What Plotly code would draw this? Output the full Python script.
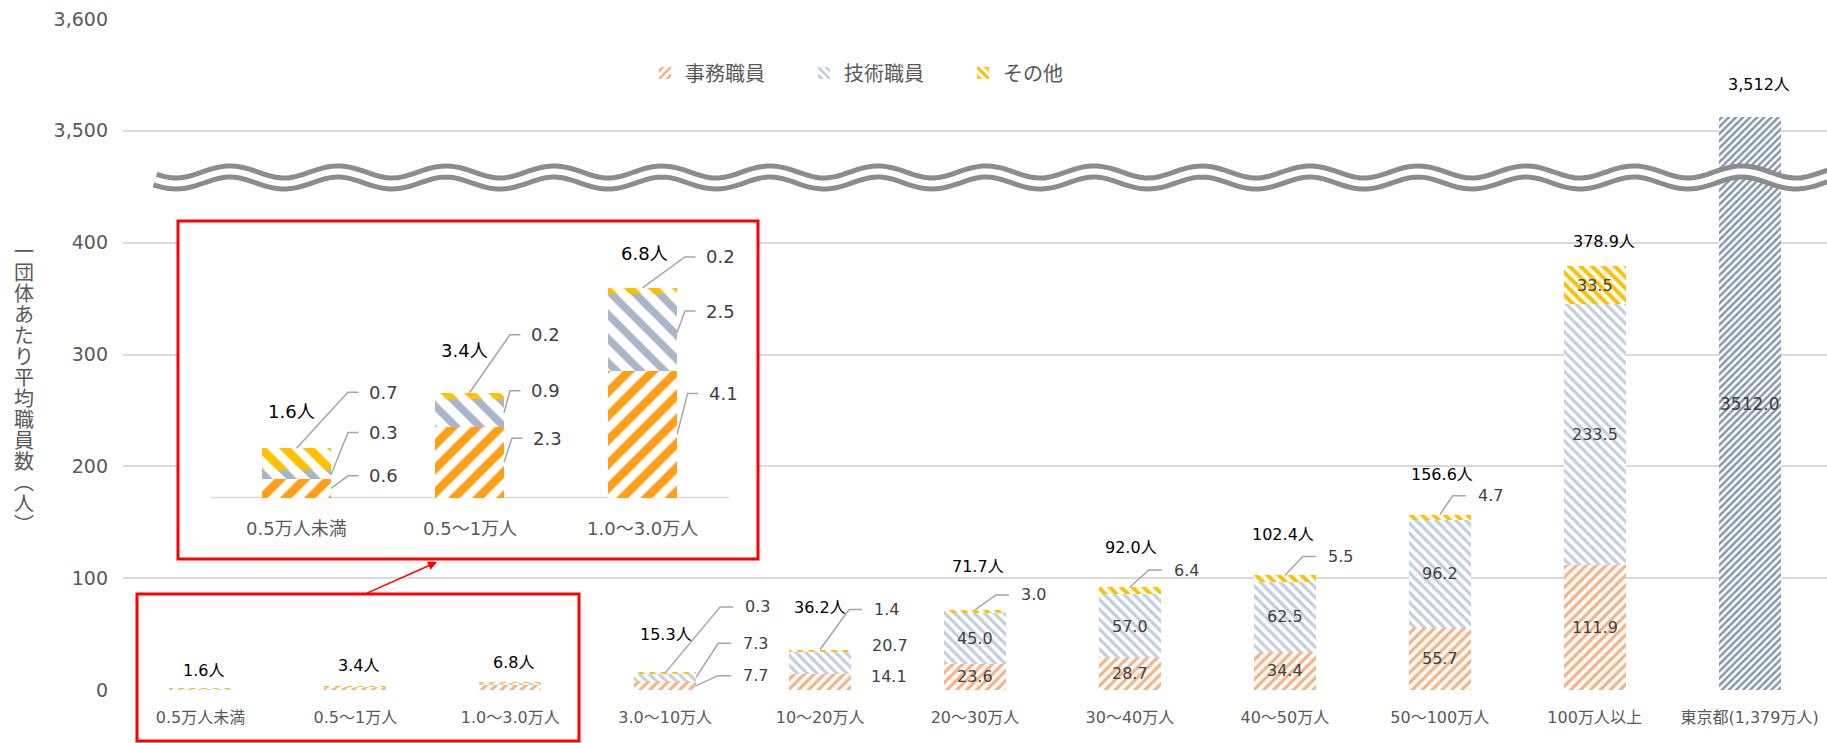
import numpy as np
import plotly.graph_objects as go

# ---------------- data ----------------
categories = ["0.5万人未満", "0.5～1万人", "1.0～3.0万人", "3.0～10万人", "10～20万人",
              "20～30万人", "30～40万人", "40～50万人", "50～100万人", "100万人以上",
              "東京都(1,379万人)"]
series_names = ["事務職員", "技術職員", "その他"]
jimu = [0.6, 2.3, 4.1, 7.7, 14.1, 23.6, 28.7, 34.4, 55.7, 111.9]
gijutsu = [0.3, 0.9, 2.5, 7.3, 20.7, 45.0, 57.0, 62.5, 96.2, 233.5]
sonota = [0.7, 0.2, 0.2, 0.3, 1.4, 3.0, 6.4, 5.5, 4.7, 33.5]
totals = [1.6, 3.4, 6.8, 15.3, 36.2, 71.7, 92.0, 102.4, 156.6, 378.9]
tokyo_total = 3512.0
inset_count = 3  # first three categories are enlarged in the inset
y_tick_values = [0, 100, 200, 300, 400, 3500, 3600]
axis_break_shift = 3000  # values above the axis break are drawn shifted down by this
axis_title = "一団体あたり平均職員数（人）"


def to_axis(v):
    return v - axis_break_shift if v >= axis_break_shift else v


# ---------------- layout constants (pixels) ----------------
W, H = 1827, 743
ML, MR, MT, MB = 123, 0, 19, 53
PW, PH = W - ML - MR, H - MT - MB


def fx(px):
    return (px - ML) / PW


def fy(py):
    return (H - MB - py) / PH


FONT = "DejaVu Sans, Noto Sans CJK JP, sans-serif"
AXIS_TXT = "#595959"
LABEL_TXT = "#404040"
LEADER = "#A6A6A6"
BAR_W = 0.4

main_style = [dict(fg="#F4B183", shape="/", size=7, sol=0.45),
              dict(fg="#C3CDDC", shape="\\", size=7, sol=0.45),
              dict(fg="#FFC000", shape="\\", size=8, sol=0.5)]
inset_style = [dict(fg="#FF9E17", shape="/", size=17, sol=0.5),
               dict(fg="#A9B5C8", shape="\\", size=17, sol=0.45),
               dict(fg="#FFC000", shape="\\", size=17, sol=0.5)]
tokyo_style = dict(fg="#8497B0", shape="/", size=5, sol=0.5)

# inset geometry
IB = (178, 221, 758, 559)          # red box (px)
I_C0, I_SP, I_BASE, I_UNIT = 296.5, 173.0, 497.6, 30.84
ix_range = [(IB[0] - I_C0) / I_SP, (IB[2] - I_C0) / I_SP]
iy_range = [(I_BASE - IB[3]) / I_UNIT, (I_BASE - IB[1]) / I_UNIT]

# label placement (screen px offsets, y down)
main_place = {
    (3, 0): ("call", "right", 45, -10), (3, 1): ("call", "right", 45, -34), (3, 2): ("call", "top", 78, -66),
    (4, 0): ("side", "right", 18, -6), (4, 1): ("side", "right", 19, -17), (4, 2): ("call", "top", 52, -40),
    (5, 2): ("call", "top", 44, -15), (6, 2): ("call", "top", 42, -17),
    (7, 2): ("call", "top", 41, -19), (8, 2): ("call", "top", 36, -19),
}
inset_place = {
    (0, 2): ("call", "top", 70.5, -56), (0, 1): ("call", "right", 36, -42), (0, 0): ("call", "right", 36, -12.5),
    (1, 2): ("call", "top", 59.5, -58), (1, 1): ("call", "right", 25, -22), (1, 0): ("call", "right", 27, -24),
    (2, 2): ("call", "top", 61.5, -31), (2, 1): ("call", "right", 27, -21.6), (2, 0): ("call", "right", 29.6, -41),
}
total_lift = [17.5, 21, 20, 38, 42, 43, 40, 41, 40, 25]
total_dx = [3, 3, 3, 1, 0, 3, 1, -2, 2, 9]
tokyo_lift, tokyo_dx = 33, 9
inset_total_lift = [37, 42, 34]
inset_total_dx = [-5, -5.5, 1.5]

fig = go.Figure()
series = [jimu, gijutsu, sonota]
n = len(jimu)
xs = list(range(n))


def pat(st):
    return dict(color="white", line=dict(width=0),
                pattern=dict(shape=st["shape"], fgcolor=st["fg"], bgcolor="white", fgopacity=1,
                             size=st["size"], solidity=st["sol"], fillmode="overlay"))


for name, vals, st in zip(series_names, series, main_style):
    fig.add_bar(x=xs, y=vals, name=name, width=BAR_W, marker=pat(st),
                xaxis="x", yaxis="y", hoverinfo="skip")
fig.add_bar(x=[n], y=[to_axis(tokyo_total)], name=categories[n], width=BAR_W,
            marker=pat(tokyo_style), showlegend=False, xaxis="x", yaxis="y", hoverinfo="skip")
for name, vals, st in zip(series_names, series, inset_style):
    fig.add_bar(x=xs[:inset_count], y=vals[:inset_count], name=name, width=BAR_W,
                marker=pat(st), showlegend=False, xaxis="x2", yaxis="y2", hoverinfo="skip")

shapes, annotations = [], []


def label(xref, yref, x, y, dx, dy, text, size, color=LABEL_TXT, anchor="left"):
    annotations.append(dict(xref=xref, yref=yref, x=x, y=y, xshift=dx, yshift=-dy, text=text,
                            showarrow=False, xanchor=anchor, yanchor="middle",
                            font=dict(size=size, color=color, family=FONT)))


def leader(xref, yref, xa, ya, dx, dy, gap, hlen):
    end = dx - gap
    elb = end - hlen
    shapes.append(dict(type="path", xref=xref, yref=yref, xsizemode="pixel", ysizemode="pixel",
                       xanchor=xa, yanchor=ya, path=f"M0,0 L{elb},{-dy} L{end},{-dy}",
                       line=dict(color=LEADER, width=1.5), layer="above"))


def segment_labels(xref, yref, i, place, size, gap, hlen, default_inside):
    base = 0.0
    for s, vals in enumerate(series):
        v = vals[i]
        lo, hi = base, base + v
        base = hi
        txt = f"{v:.1f}"
        spec = place.get((i, s))
        if spec is None:
            if default_inside:
                label(xref, yref, i, (lo + hi) / 2, 0, 0, txt, size, anchor="center")
            continue
        kind, anc, dx, dy = spec
        if anc == "top":
            xa, ya = i, hi
        else:
            xa, ya = i + BAR_W / 2, (lo + hi) / 2
        if kind == "call":
            leader(xref, yref, xa, ya, dx, dy, gap, hlen)
        label(xref, yref, xa, ya, dx, dy, txt, size)


# main chart labels
for i in range(n):
    label("x", "y", i, totals[i], total_dx[i], -total_lift[i], f"{totals[i]:.1f}人", 16,
          color="#000000", anchor="center")
    if i >= inset_count:
        segment_labels("x", "y", i, main_place, 16, 10, 13, True)
label("x", "y", n, to_axis(tokyo_total), tokyo_dx, -tokyo_lift, f"{tokyo_total:,.0f}人", 16,
      color="#000000", anchor="center")
label("x", "y", n, to_axis(tokyo_total) / 2, 0, 0, f"{tokyo_total:.1f}", 17, anchor="center")

# inset labels
for i in range(inset_count):
    label("x2", "y2", i, totals[i], inset_total_dx[i], -inset_total_lift[i], f"{totals[i]:.1f}人", 18,
          color="#000000", anchor="center")
    segment_labels("x2", "y2", i, inset_place, 18, 8.5, 10.6, False)
    label("x2", "y2", i, 0, 0, 31, categories[i], 18, color=AXIS_TXT, anchor="center")
shapes.append(dict(type="line", xref="x2", yref="y2", x0=-0.5, x1=inset_count - 0.5, y0=0, y1=0,
                   line=dict(color="#D9D9D9", width=1.5), layer="below"))

# red boxes and arrow
shapes.append(dict(type="rect", xref="paper", yref="paper", x0=fx(IB[0]), x1=fx(IB[2]),
                   y0=fy(IB[3]), y1=fy(IB[1]), line=dict(color="#FF0000", width=3), layer="above"))
shapes.append(dict(type="rect", xref="paper", yref="paper", x0=fx(137), x1=fx(579),
                   y0=fy(741), y1=fy(594), line=dict(color="#FF0000", width=3), layer="above"))
annotations.append(dict(xref="paper", yref="paper", x=fx(437), y=fy(562), ax=365 - 437, ay=594 - 562,
                        axref="pixel", ayref="pixel", text="", showarrow=True, arrowhead=2,
                        arrowsize=1.2, arrowwidth=1.5, arrowcolor="#FF0000", standoff=0))

# axis break wave
wx = np.linspace(155, 1840, 400)
wy = 177.5 - 6.0 * np.cos(2 * np.pi * (wx - 230) / 108.0)
wpath = "M" + " L".join(f"{fx(a):.5f},{fy(b):.5f}" for a, b in zip(wx, wy))
shapes.append(dict(type="path", xref="paper", yref="paper", path=wpath,
                   line=dict(color="#8C8C8C", width=16), layer="above"))
shapes.append(dict(type="path", xref="paper", yref="paper", path=wpath,
                   line=dict(color="#FFFFFF", width=6), layer="above"))

# vertical axis title (stacked characters)
vmap = {"（": "︵", "）": "︶"}
chars = [vmap.get(c, c) for c in axis_title]
for k, c in enumerate(chars):
    annotations.append(dict(xref="paper", yref="paper", x=fx(23.6), y=fy(252 + 21 * k), text=c,
                            showarrow=False, xanchor="center", yanchor="middle",
                            font=dict(size=20, color=AXIS_TXT, family=FONT)))

fig.update_layout(
    width=W, height=H, margin=dict(l=ML, r=MR, t=MT, b=MB, pad=0),
    paper_bgcolor="white", plot_bgcolor="white", barmode="stack",
    font=dict(family=FONT, color=AXIS_TXT),
    xaxis=dict(range=[-0.5, n + 0.5], tickvals=list(range(n + 1)), ticktext=categories,
               showgrid=False, zeroline=False, showline=False, ticks="",
               tickfont=dict(size=16, color=AXIS_TXT), ticklabelstandoff=16),
    yaxis=dict(range=[0, 600], tickvals=[to_axis(v) for v in y_tick_values],
               ticktext=[f"{v:,}" for v in y_tick_values], gridcolor="#D9D9D9", gridwidth=1.5,
               zeroline=False, showline=False, ticks="", tickfont=dict(size=19, color=AXIS_TXT),
               ticklabelstandoff=14),
    xaxis2=dict(domain=[fx(IB[0]), fx(IB[2])], anchor="y2", range=ix_range, visible=False),
    yaxis2=dict(domain=[fy(IB[3]), fy(IB[1])], anchor="x2", range=iy_range, visible=False),
    legend=dict(orientation="h", x=fx(645), y=fy(73), xanchor="left", yanchor="middle",
                font=dict(size=20, color=AXIS_TXT, family=FONT), entrywidth=114,
                entrywidthmode="pixels", bgcolor="rgba(0,0,0,0)", traceorder="normal"),
    shapes=shapes, annotations=annotations, showlegend=True,
)

fig.write_html("out.html", post_script="document.body.style.margin='0';",
               config={"displayModeBar": False})
